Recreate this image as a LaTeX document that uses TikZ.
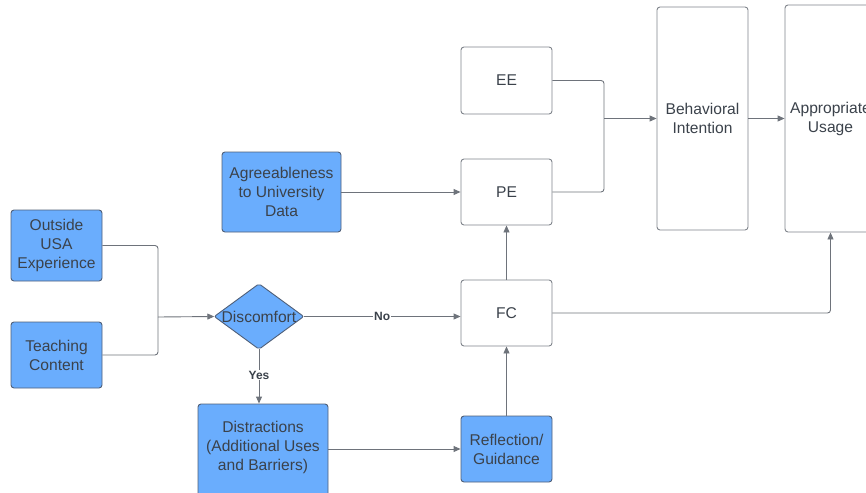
\documentclass[tikz,border=0pt]{standalone}
\usepackage{fontspec}
\setmainfont{Liberation Sans}
\usetikzlibrary{arrows.meta}
\definecolor{fillblue}{HTML}{6AADFD}
\definecolor{blueedge}{HTML}{4F5F78}
\definecolor{greyedge}{HTML}{7F848B}
\definecolor{txt}{HTML}{3B424B}
\definecolor{linec}{HTML}{6E737B}
\tikzset{
  mainfont/.style={font=\fontsize{15.6}{19}\selectfont},
  box/.style={draw=greyedge, line width=0.9pt, rounded corners=3pt, fill=white,
    text=txt, align=center, inner sep=0pt, mainfont},
  bluebox/.style={box, fill=fillblue, draw=blueedge},
  conn/.style={draw=linec, line width=0.9pt, -{Triangle[length=7pt,width=6pt]}},
  link/.style={draw=linec, line width=0.9pt},
  lbl/.style={fill=white, text=txt, inner sep=1pt, font=\fontsize{12}{14}\selectfont\bfseries}
}
\begin{document}
\begin{tikzpicture}[x=1pt,y=-1pt]
\useasboundingbox (0,0) rectangle (866,492);
\clip (0,0) rectangle (866,492);
% nodes
\node[bluebox, minimum width=91pt, minimum height=71pt] (out) at (56.5,245.5) {Outside\\USA\\Experience};
\node[bluebox, minimum width=91pt, minimum height=66pt] (teach) at (56.5,355) {Teaching\\Content};
\node[minimum width=89pt, minimum height=65pt, inner sep=0pt] (disc) at (259,316.5) {};
\draw[fill=fillblue, draw=blueedge, line width=0.9pt, rounded corners=2pt] (disc.west) -- (disc.north) -- (disc.east) -- (disc.south) -- cycle;
\node[text=txt, mainfont, inner sep=0pt] (disctext) at (disc.center) {Discomfort};
\node[bluebox, minimum width=130pt, minimum height=94pt] (dist) at (263,451) {};
\node[text=txt, align=center, mainfont, inner sep=0pt] (disttext) at (263,447) {Distractions\\(Additional Uses\\and Barriers)};
\node[bluebox, minimum width=91pt, minimum height=66pt] (refl) at (506.5,449) {Reflection/\\Guidance};
\node[box, minimum width=91pt, minimum height=66pt] (fc) at (506.5,313) {FC};
\node[box, minimum width=91pt, minimum height=66pt] (pe) at (506.5,192) {PE};
\node[box, minimum width=91pt, minimum height=67pt] (ee) at (506.5,80.5) {EE};
\node[bluebox, minimum width=119pt, minimum height=80pt] (agree) at (281.5,192) {Agreeableness\\to University\\Data};
\node[box, minimum width=91pt, minimum height=223pt] (bi) at (702.5,118.5) {Behavioral\\Intention};
\node[box, minimum width=91pt, minimum height=227pt] (au) at (830.5,118.5) {Appropriate\\Usage};
% helper coordinates
\coordinate (m1) at (158,317);
\coordinate (m2) at (604,118.5);
\coordinate (fcau) at (830.5,313);
% connectors
\draw[link, rounded corners=3pt] (out.east) -- (out.east -| m1) -- (m1);
\draw[link, rounded corners=3pt] (teach.east) -- (teach.east -| m1) -- (m1);
\draw[conn] (m1) -- (disc.west);
\draw[conn] (disc.east) -- node[lbl, pos=0.5] {No} (disc.east -| fc.west);
\draw[conn] (disc.south) -- node[lbl, pos=0.48] {Yes} (dist.north -| disc.south);
\draw[conn] (refl.west -| dist.east) -- (refl.west);
\draw[conn] (refl.north) -- (fc.south);
\draw[conn] (fc.north) -- (pe.south);
\draw[conn] (agree.east) -- (pe.west);
\draw[link, rounded corners=3pt] (ee.east) -- (ee.east -| m2) -- (m2);
\draw[link, rounded corners=3pt] (pe.east) -- (pe.east -| m2) -- (m2);
\draw[conn] (m2) -- (m2 -| bi.west);
\draw[conn] (bi.east) -- (bi.east -| au.west);
\draw[conn, rounded corners=3pt] (fc.east) -- (fcau) -- (au.south);
\end{tikzpicture}
\end{document}
